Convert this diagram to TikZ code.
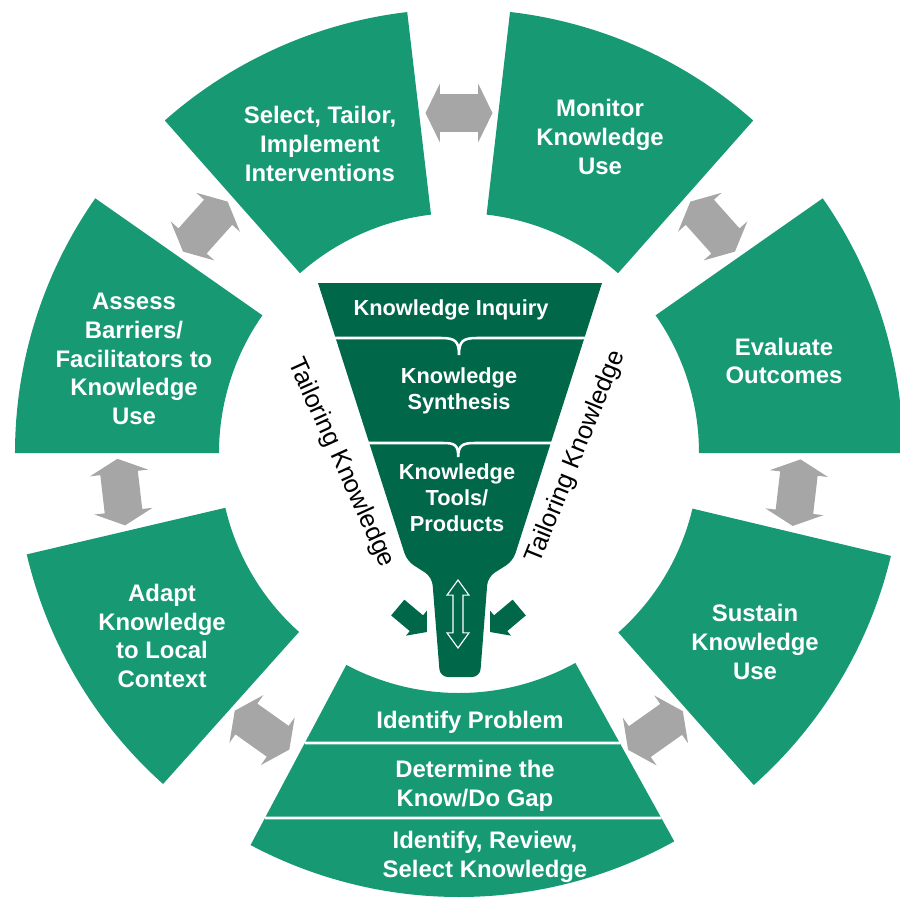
\documentclass[tikz,border=0pt]{standalone}
\usepackage{fontspec}
\setmainfont{Liberation Sans}
\usetikzlibrary{shapes.arrows}
\definecolor{ringgreen}{RGB}{23,154,116}
\definecolor{funnelgreen}{RGB}{0,104,72}
\definecolor{linkgray}{RGB}{166,166,166}
\begin{document}
\begin{tikzpicture}[
  stage/.style={fill=ringgreen},
  steptext/.style={text=white, font=\bfseries\fontsize{17}{20.5}\selectfont, align=center},
  funneltext/.style={text=white, font=\bfseries\fontsize{15.5}{18.5}\selectfont, align=center},
  tailor/.style={font=\fontsize{18}{22}\selectfont},
  link/.style={double arrow, fill=linkgray, inner xsep=0pt, inner ysep=0.465cm, minimum height=1.675cm, double arrow head extend=0.26cm, double arrow tip angle=128},
  feed/.style={single arrow, fill=funnelgreen, inner xsep=0pt, inner ysep=0.25cm, minimum height=0.95cm, single arrow head extend=0.15cm, single arrow tip angle=100}
]
\useasboundingbox (-11.475,-11.15) rectangle (11.025,11.325);

\foreach \a/\b in {145/180, 96.7/131.5, 48.5/83.4, 0/35, -48.4/-13.4, -166.8/-131.8, -118/-61}
  \fill[stage] (\a:6) -- (\a:11.1) arc[start angle=\a, end angle=\b, radius=11.1cm] -- (\b:6) arc[start angle=\b, end angle=\a, radius=6cm] -- cycle;
\draw[white, line width=2pt] (-118:8.21) -- (-61:8.29) (-118:10.335) -- (-61:10.433);

\foreach \t [count=\i] in {90,41.75,-6.7,-54.7,-125.4,-173.4,138.25}
  \node[link, rotate=\t+90] (link\i) at (\t:8.5) {};

\node[steptext] (select) at (-3.475,7.725) {Select, Tailor,\\Implement\\Interventions};
\node[steptext] (monitor) at (3.525,7.9) {Monitor\\Knowledge\\Use};
\node[steptext] (evaluate) at (8.125,2.3) {Evaluate\\Outcomes};
\node[steptext] (sustain) at (7.4,-4.725) {Sustain\\Knowledge\\Use};
\node[steptext] (adapt) at (-7.425,-4.575) {Adapt\\Knowledge\\to Local\\Context};
\node[steptext] (assess) at (-8.125,2.35) {Assess\\Barriers/\\Facilitators to\\Knowledge\\Use};
\node[steptext] (problem) at (0.275,-6.725) {Identify Problem};
\node[steptext] (gap) at (0.4,-8.325) {Determine the\\Know/Do Gap};
\node[steptext] (review) at (0.65,-10.1) {Identify, Review,\\Select Knowledge};

\fill[funnelgreen] (-3.525,4.25) -- (3.575,4.25) [rounded corners=0.2cm] -- (1.35,-2.7) -- (0.72,-3.1) -- (0.525,-5.6) -- (-0.475,-5.6) -- (-0.675,-3.1) -- (-1.3,-2.7) [sharp corners] -- cycle;
\draw[white, line width=1.8pt] (-3.2,2.875) -- (-0.45,2.875) .. controls (-0.1,2.875) and (0,2.8) .. (0,2.45) .. controls (0,2.8) and (0.1,2.875) .. (0.45,2.875) -- (3.2,2.875);
\draw[white, line width=1.8pt] (-2.35,0.25) -- (-0.4,0.25) .. controls (-0.1,0.25) and (-0.02,0.2) .. (-0.02,-0.1) .. controls (-0.02,0.2) and (0.1,0.25) .. (0.4,0.25) -- (2.4,0.25);

\node[funneltext] (inquiry) at (-0.2,3.575) {Knowledge Inquiry};
\node[funneltext] (synthesis) at (0,1.55) {Knowledge\\Synthesis};
\node[funneltext] (tools) at (-0.05,-1.125) {Knowledge\\Tools/\\Products};

\node[double arrow, draw=white, fill=funnelgreen, line width=0.8pt, rotate=90, inner xsep=0pt, inner ysep=0.11cm, minimum height=1.7cm, double arrow head extend=0.15cm, double arrow tip angle=72] (flow) at (-0.025,-4.025) {};
\node[feed, rotate=-40] (feedL) at (-1.25,-4.1) {};
\node[feed, rotate=-140] (feedR) at (1.225,-4.1) {};

\node[tailor, rotate=-65.6] (tailorL) at (-2.95,-0.25) {Tailoring Knowledge};
\node[tailor, rotate=68] (tailorR) at (2.925,-0.1) {Tailoring Knowledge};
\end{tikzpicture}
\end{document}
